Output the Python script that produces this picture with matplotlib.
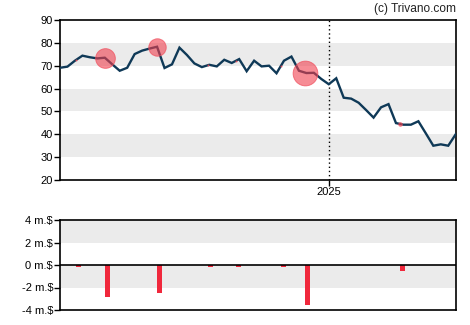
import numpy as np
import pandas as pd
import matplotlib
matplotlib.use("Agg")
import matplotlib.pyplot as plt
import matplotlib.dates as mdates

plt.rcParams['font.family'] = ['Liberation Sans', 'DejaVu Sans']

# Weekly closing prices
start_date = "2024-04-24"
prices = [69.1, 69.6, 72.2, 74.4, 73.7, 73.2, 73.5, 70.6, 67.8, 69.1,
          75.1, 76.6, 77.5, 78.3, 69.0, 70.6, 77.9, 74.7, 71.0, 69.4,
          70.4, 69.7, 72.6, 71.2, 72.9, 67.6, 72.2, 69.7, 70.0, 66.7,
          72.2, 74.0, 67.8, 66.8, 66.9, 64.2, 61.9, 64.5, 56.0, 55.6,
          53.8, 50.6, 47.3, 51.8, 53.2, 44.9, 44.2, 44.2, 45.7, 40.4,
          35.0, 35.6, 35.0, 40.0]
dates = pd.date_range(start_date, periods=len(prices), freq="7D")

# Insider transactions (million $, negative = sales)
trade_dates = ["2024-05-09", "2024-06-05", "2024-07-24", "2024-09-10",
               "2024-10-06", "2024-11-17", "2024-12-10", "2025-03-09"]
trade_values = [-0.15, -2.81, -2.49, -0.15, -0.15, -0.15, -3.53, -0.5]

year_tick = "2025-01-01"
year_label = "2025"
price_ticks = [20, 30, 40, 50, 60, 70, 80, 90]
volume_ticks = [-4, -2, 0, 2, 4]
volume_labels = ["-4 m.$", "-2 m.$", "0 m.$", "2 m.$", "4 m.$"]

W, H = 470, 325
fig = plt.figure(figsize=(W / 100, H / 100), dpi=100)

line_color = "#0f3957"
red = "#f0283c"
band = "#ebebeb"

ax = fig.add_axes([60 / W, (H - 180) / H, 395.7 / W, 160 / H])
ax2 = fig.add_axes([60 / W, (H - 310) / H, 395.7 / W, 90 / H])

x_num = mdates.date2num(dates)
td_num = mdates.date2num(pd.to_datetime(trade_dates))

# Price panel
for lo in (30, 50, 70):
    ax.axhspan(lo, lo + 10, color=band, lw=0, zorder=0)
ax.plot(x_num, prices, color=line_color, lw=1.7, zorder=3, solid_joinstyle="miter")
y_at = np.interp(td_num, x_num, prices)
for xv, yv, v in zip(td_num, y_at, trade_values):
    d_px = 7.0 * abs(v)
    ax.plot(xv, yv, "o", ms=d_px * 0.72, mfc=(0.94, 0.25, 0.31, 0.6),
            mec=(0.94, 0.3, 0.36, 0.7), mew=0.7, zorder=4)
yt = mdates.date2num(pd.Timestamp(year_tick))
ax.axvline(yt, color="black", lw=1, ls=(0, (1, 2)), zorder=2)
ax.set_xlim(x_num[0], x_num[-1])
ax.set_ylim(20, 90)
ax.set_yticks(price_ticks)
ax.set_xticks([yt])
ax.set_xticklabels([year_label])

# Transaction panel
ax2.axhspan(2, 4, color=band, lw=0, zorder=0)
ax2.axhspan(-2, 0, color=band, lw=0, zorder=0)
ax2.bar(td_num, trade_values, width=4.7, align="edge", color=red, zorder=3)
ax2.axhline(0, color="black", lw=1.2, zorder=4)
ax2.set_xlim(x_num[0], x_num[-1])
ax2.set_ylim(-4, 4)
ax2.set_yticks(volume_ticks)
ax2.set_yticklabels(volume_labels)
ax2.set_xticks([])

for a in (ax, ax2):
    for s in a.spines.values():
        s.set_linewidth(1.2)
        s.set_color("black")
    a.tick_params(axis="both", direction="out", length=4, width=1,
                  labelsize=8, colors="black", pad=1)

fig.text(456 / W, 1 - 9 / H, "(c) Trivano.com", ha="right", va="center",
         fontsize=8.6, color="#222222")

fig.savefig("out.png", dpi=100)
